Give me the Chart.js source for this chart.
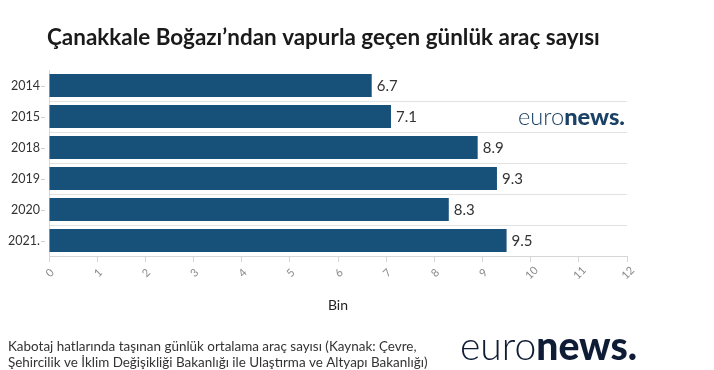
<!DOCTYPE html>
<html><head><meta charset="utf-8">
<script src="https://cdn.jsdelivr.net/npm/chart.js@4"></script>
<style>html,body{margin:0;padding:0;background:#fff;}canvas{display:block;}</style>
</head><body>
<canvas id="c" width="714" height="370"></canvas>
<script>
const categories = ['2014', '2015', '2018', '2019', '2020', '2021.'];
const values = [6.7, 7.1, 8.9, 9.3, 8.3, 9.5];
const xTickLabels = ['0','1','2','3','4','5','6','7','8','9','10','11','12'];
const titleText = 'Çanakkale Boğazı’ndan vapurla geçen günlük araç sayısı';
const axisTitle = 'Bin';
const footerLines = ['Kabotaj hatlarında taşınan günlük ortalama araç sayısı (Kaynak: Çevre,',
  'Şehircilik ve İklim Değişikliği Bakanlığı ile Ulaştırma ve Altyapı Bakanlığı)'];

const FAM = 'Lato, "Noto Sans", sans-serif';

function fitSize(ctx, text, weight, targetW) {
  ctx.font = weight + ' 100px ' + FAM;
  return 100 * targetW / ctx.measureText(text).width;
}
function drawLogo(ctx, x, baseline, width, color) {
  ctx.font = '300 100px ' + FAM;
  const w1 = ctx.measureText('euro').width;
  ctx.font = '900 100px ' + FAM;
  const w2 = ctx.measureText('news.').width;
  const size = 100 * width / (w1 + w2);
  ctx.fillStyle = color;
  ctx.textAlign = 'left';
  ctx.textBaseline = 'alphabetic';
  ctx.font = '300 ' + size + 'px ' + FAM;
  ctx.fillText('euro', x, baseline);
  ctx.font = '900 ' + size + 'px ' + FAM;
  ctx.fillText('news.', x + w1 * size / 100, baseline);
}

const overlay = {
  id: 'overlay',
  afterDraw(chart) {
    const ctx = chart.ctx;
    const xs = chart.scales.x, ys = chart.scales.y;
    const area = chart.chartArea;
    ctx.save();
    // y tick marks
    ctx.strokeStyle = '#cfcfcf'; ctx.lineWidth = 1;
    categories.forEach((c, i) => {
      const y = Math.round(ys.getPixelForValue(i)) + 0.5;
      ctx.beginPath(); ctx.moveTo(area.left - 8, y); ctx.lineTo(area.left - 4, y); ctx.stroke();
    });
    // x tick labels rotated
    ctx.fillStyle = '#8a8a8a';
    ctx.font = '11px ' + FAM;
    ctx.textAlign = 'center'; ctx.textBaseline = 'middle';
    xTickLabels.forEach(t => {
      const x = xs.getPixelForValue(Number(t));
      ctx.save();
      ctx.translate(x + 1, area.bottom + 17);
      ctx.rotate(-Math.PI / 4);
      ctx.fillText(t, 0, 0);
      ctx.restore();
    });
    // axis title
    ctx.fillStyle = '#222';
    ctx.font = '14px ' + FAM;
    ctx.textAlign = 'center'; ctx.textBaseline = 'alphabetic';
    ctx.fillText(axisTitle, (area.left + area.right) / 2, 310);
    // value labels
    const meta = chart.getDatasetMeta(0);
    ctx.fillStyle = '#333';
    ctx.font = '15px ' + FAM;
    ctx.textAlign = 'left'; ctx.textBaseline = 'middle';
    meta.data.forEach((bar, i) => {
      ctx.fillText(values[i].toFixed(1), bar.x + 5, bar.y + 1);
    });
    // title
    let s = fitSize(ctx, titleText, 'bold', 553);
    ctx.font = 'bold ' + s + 'px ' + FAM;
    ctx.fillStyle = '#1a1a1a';
    ctx.textAlign = 'left'; ctx.textBaseline = 'alphabetic';
    ctx.fillText(titleText, 47, 45);
    // footer
    s = fitSize(ctx, footerLines[1], 'normal', 420);
    ctx.font = s + 'px ' + FAM;
    ctx.fillStyle = '#333';
    ctx.fillText(footerLines[0], 8, 351);
    ctx.fillText(footerLines[1], 8, 367);
    // logos
    drawLogo(ctx, 518, 125, 107, '#1b4266');
    drawLogo(ctx, 460, 360, 177, '#0f1c35');
    ctx.restore();
  }
};

new Chart(document.getElementById('c'), {
  type: 'bar',
  data: {
    labels: categories,
    datasets: [{
      data: values,
      backgroundColor: '#175079',
      borderWidth: 0,
      categoryPercentage: 1,
      barPercentage: 0.74
    }]
  },
  options: {
    indexAxis: 'y',
    responsive: false,
    animation: false,
    layout: { padding: { top: 70, right: 87, left: 0, bottom: 0 } },
    plugins: { legend: { display: false }, tooltip: { enabled: false }, title: { display: false } },
    scales: {
      x: {
        type: 'linear', min: 0, max: 12,
        ticks: { stepSize: 1, display: false },
        grid: { drawOnChartArea: false, drawTicks: true, tickLength: 6, color: '#d6d6d6' },
        border: { color: '#d6d6d6' },
        afterFit(s) { s.height = 114; }
      },
      y: {
        type: 'category',
        ticks: { color: '#333', font: { family: FAM, size: 12.5 }, padding: 9 },
        grid: { offset: true, drawTicks: false, color: (c) => c.index === 0 ? 'rgba(0,0,0,0)' : '#e2e2e2' },
        border: { color: '#d6d6d6' },
        afterFit(s) { s.width = 49; }
      }
    }
  },
  plugins: [overlay]
});
</script>
</body></html>
